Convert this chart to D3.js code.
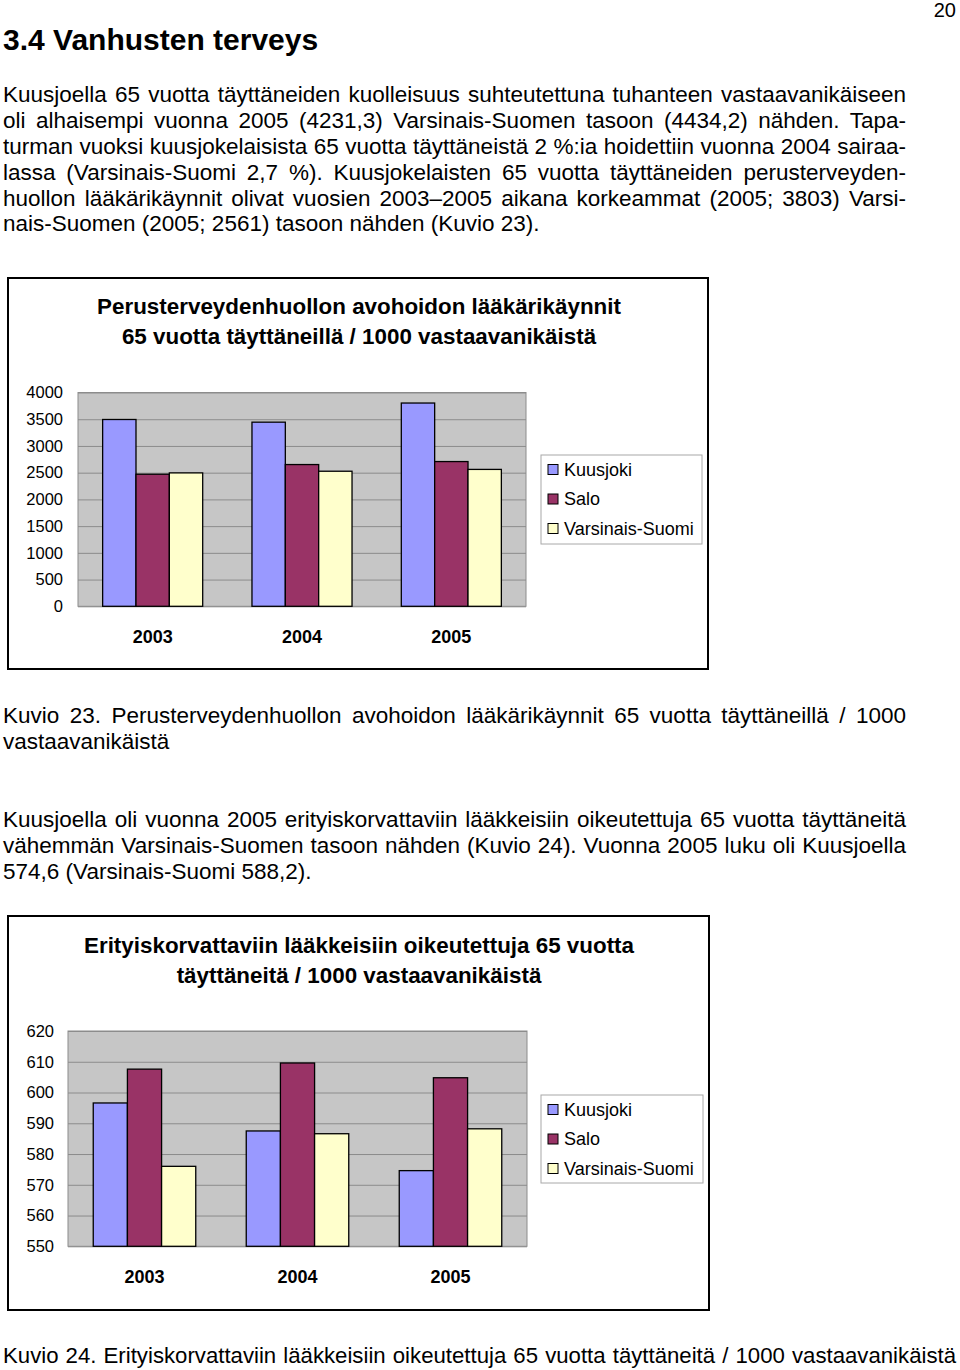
<!DOCTYPE html>
<html>
<head>
<meta charset="utf-8">
<script src="https://cdn.jsdelivr.net/npm/d3@7/dist/d3.min.js"></script>
<style>
  html, body { margin: 0; padding: 0; background: #fff; }
  body { width: 960px; height: 1370px; position: relative; overflow: hidden;
         font-family: "Liberation Sans", Arial, Helvetica, sans-serif; color: #000; }
  .ln { position: absolute; left: 3px; width: 903px; font-size: 22.5px; line-height: 25.8px;
        white-space: nowrap; text-align: justify; text-align-last: justify; }
  .ln.last { text-align-last: left; }
  .ln.wide { font-size: 22.2px; }
  #chart { position: absolute; left: 0; top: 0; }
</style>
</head>
<body>
<div id="text"></div>
<svg id="chart" width="960" height="1370"></svg>
<script>
// ---------------- data ----------------
const years = ["2003", "2004", "2005"];
const seriesNames = ["Kuusjoki", "Salo", "Varsinais-Suomi"];
const seriesColors = ["#9999FF", "#993366", "#FFFFCC"];

// Kuvio 23: lääkärikäynnit / 1000
const kuusjokiVisits = [3495, 3445, 3803];
const saloVisits = [2471, 2652, 2708];
const varsinaisVisits = [2496, 2527, 2561];
const visitTicks = [0, 500, 1000, 1500, 2000, 2500, 3000, 3500, 4000];

// Kuvio 24: erityiskorvattaviin lääkkeisiin oikeutetut / 1000
const kuusjokiDrugs = [596.6, 587.5, 574.6];
const saloDrugs = [607.6, 609.6, 604.8];
const varsinaisDrugs = [576.0, 586.6, 588.2];
const drugTicks = [550, 560, 570, 580, 590, 600, 610, 620];

const chart1Title = ["Perusterveydenhuollon avohoidon lääkärikäynnit", "65 vuotta täyttäneillä / 1000 vastaavanikäistä"];
const chart2Title = ["Erityiskorvattaviin lääkkeisiin oikeutettuja 65 vuotta", "täyttäneitä / 1000 vastaavanikäistä"];

// ---------------- page text ----------------
const textLines = [
  {t: "Kuusjoella 65 vuotta täyttäneiden kuolleisuus suhteutettuna tuhanteen vastaavanikäiseen", b: 103},
  {t: "oli alhaisempi vuonna 2005 (4231,3) Varsinais-Suomen tasoon (4434,2) nähden. Tapa-", b: 128.8},
  {t: "turman vuoksi kuusjokelaisista 65 vuotta täyttäneistä 2 %:ia hoidettiin vuonna 2004 sairaa-", b: 154.6},
  {t: "lassa (Varsinais-Suomi 2,7 %). Kuusjokelaisten 65 vuotta täyttäneiden perusterveyden-", b: 180.4},
  {t: "huollon lääkärikäynnit olivat vuosien 2003–2005 aikana korkeammat (2005; 3803) Varsi-", b: 206.2},
  {t: "nais-Suomen (2005; 2561) tasoon nähden (Kuvio 23).", b: 232, last: true},
  {t: "Kuvio 23. Perusterveydenhuollon avohoidon lääkärikäynnit 65 vuotta täyttäneillä / 1000", b: 724},
  {t: "vastaavanikäistä", b: 749.8, last: true},
  {t: "Kuusjoella oli vuonna 2005 erityiskorvattaviin lääkkeisiin oikeutettuja 65 vuotta täyttäneitä", b: 828},
  {t: "vähemmän Varsinais-Suomen tasoon nähden (Kuvio 24). Vuonna 2005 luku oli Kuusjoella", b: 853.8},
  {t: "574,6 (Varsinais-Suomi 588,2).", b: 879.6, last: true},
  {t: "Kuvio 24. Erityiskorvattaviin lääkkeisiin oikeutettuja 65 vuotta täyttäneitä / 1000 vastaavanikäistä", b: 1364, wide: true}
];
const textDiv = d3.select("#text");
textLines.forEach(l => {
  textDiv.append("div")
    .attr("class", "ln" + (l.last ? " last" : "") + (l.wide ? " wide" : ""))
    .style("top", (l.b - 20.7) + "px")
    .style("width", l.wide ? "953px" : "903px")
    .text(l.t);
});

const svg = d3.select("#chart");
svg.append("text").attr("x", 3).attr("y", 50)
  .attr("font-size", 30).attr("font-weight", "bold").text("3.4 Vanhusten terveys");
svg.append("text").attr("x", 956).attr("y", 17).attr("text-anchor", "end")
  .attr("font-size", 20).text("20");

// ---------------- chart drawing ----------------
function drawChart(cfg) {
  const g = svg.append("g");
  // outer frame
  g.append("rect").attr("x", cfg.box[0]).attr("y", cfg.box[1])
    .attr("width", cfg.box[2]).attr("height", cfg.box[3])
    .attr("fill", "#fff").attr("stroke", "#000").attr("stroke-width", 2);
  // title
  cfg.title.forEach((t, i) => {
    g.append("text").attr("x", cfg.titleX).attr("y", cfg.titleY + i * cfg.titleStep)
      .attr("text-anchor", "middle").attr("font-size", 22.4).attr("font-weight", "bold").text(t);
  });
  const [L, T, R, B] = cfg.plot;
  const x = d3.scaleBand().domain(years).range([L, R]).paddingInner(0.33).paddingOuter(0.165);
  const xs = d3.scaleBand().domain(seriesNames).range([0, x.bandwidth()]);
  const y = d3.scaleLinear().domain([cfg.ticks[0], cfg.ticks[cfg.ticks.length - 1]]).range([B, T]);
  // plot area
  g.append("rect").attr("x", L).attr("y", T).attr("width", R - L).attr("height", B - T)
    .attr("fill", "#C6C6C6").attr("stroke", "#8C8C8C").attr("stroke-width", 1);
  // y axis with gridlines
  const ya = g.append("g").attr("transform", `translate(${L},0)`)
    .call(d3.axisLeft(y).tickValues(cfg.ticks).tickSize(-(R - L)).tickPadding(cfg.tickPad).tickFormat(d3.format("d")));
  ya.select(".domain").remove();
  ya.selectAll("line").attr("stroke", "#8C8C8C").attr("stroke-width", 1);
  ya.selectAll("text").attr("font-size", 16.5).attr("font-family", "Liberation Sans, Arial, sans-serif").attr("fill", "#000");
  // bars
  const groups = g.selectAll("g.yr").data(years).join("g").attr("class", "yr")
    .attr("transform", d => `translate(${x(d)},0)`);
  groups.selectAll("rect").data((d, i) => cfg.values.map((arr, s) => ({s, v: arr[i]})))
    .join("rect")
    .attr("x", d => xs(seriesNames[d.s]))
    .attr("y", d => y(d.v))
    .attr("width", xs.bandwidth())
    .attr("height", d => B - y(d.v))
    .attr("fill", d => seriesColors[d.s])
    .attr("stroke", "#000").attr("stroke-width", 1.3);
  // category labels
  const xa = g.append("g").attr("transform", `translate(0,${B})`)
    .call(d3.axisBottom(x).tickSize(0));
  xa.select(".domain").remove();
  xa.selectAll("text").attr("y", cfg.catY - B).attr("dy", "0")
    .attr("font-size", 18).attr("font-weight", "bold").attr("font-family", "Liberation Sans, Arial, sans-serif").attr("fill", "#000");
  // legend
  const [lx, ly, lw, lh] = cfg.legend;
  g.append("rect").attr("x", lx).attr("y", ly).attr("width", lw).attr("height", lh)
    .attr("fill", "#fff").attr("stroke", "#A8A8A8").attr("stroke-width", 1);
  seriesNames.forEach((n, i) => {
    const cy = cfg.legendY0 + i * cfg.legendStep;
    g.append("rect").attr("x", lx + 7).attr("y", cy - 5).attr("width", 10).attr("height", 10)
      .attr("fill", seriesColors[i]).attr("stroke", "#000").attr("stroke-width", 1);
    g.append("text").attr("x", lx + 23).attr("y", cy).attr("dy", "0.35em")
      .attr("font-size", 18).text(n);
  });
}

drawChart({
  box: [8, 278, 700, 391],
  title: chart1Title, titleX: 359, titleY: 314, titleStep: 30,
  plot: [78, 392.5, 526, 606.3],
  ticks: visitTicks, tickPad: 15,
  values: [kuusjokiVisits, saloVisits, varsinaisVisits],
  catY: 643,
  legend: [541, 455, 161, 89], legendY0: 469.5, legendStep: 29.5
});

drawChart({
  box: [8, 916, 701, 394],
  title: chart2Title, titleX: 359, titleY: 953, titleStep: 29.5,
  plot: [68, 1031, 527, 1246.3],
  ticks: drugTicks, tickPad: 14,
  values: [kuusjokiDrugs, saloDrugs, varsinaisDrugs],
  catY: 1283,
  legend: [541, 1095, 162, 88], legendY0: 1109.5, legendStep: 29.5
});
</script>
</body>
</html>
